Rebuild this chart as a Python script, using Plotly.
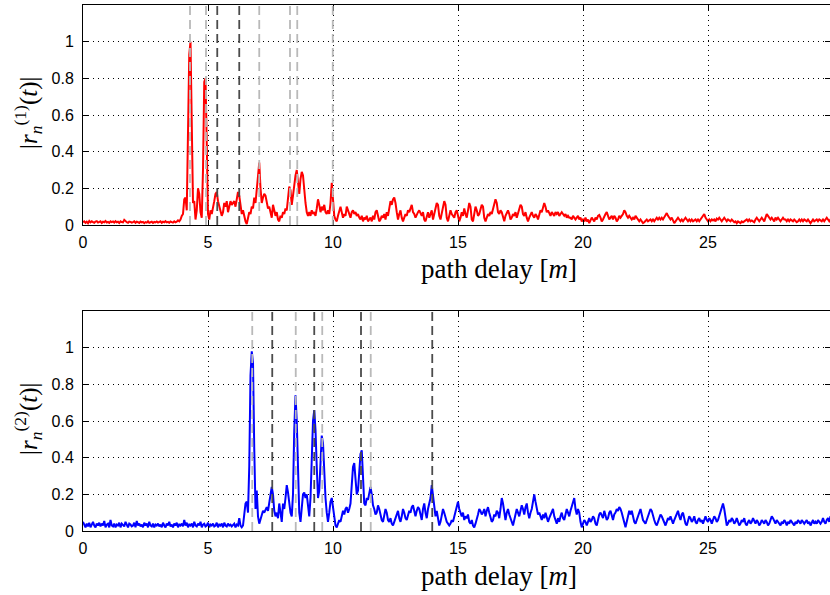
import numpy as np
import plotly.graph_objects as go

# ---------------- data ----------------
step = 0.05  # path-delay sampling [m]

r1_values = [
    # 0-1
    0.015,0.02,0.012,0.018,0.01,0.022,0.014,0.02,0.016,0.012,0.019,0.021,0.013,0.017,0.02,0.011,0.018,0.015,0.022,0.014,
    # 1-2
    0.017,0.012,0.02,0.016,0.019,0.013,0.021,0.015,0.018,0.011,0.02,0.016,0.014,0.028,0.02,0.015,0.012,0.019,0.017,0.013,
    # 2-3
    0.016,0.02,0.012,0.018,0.015,0.011,0.019,0.014,0.017,0.01,0.016,0.013,0.02,0.012,0.015,0.018,0.011,0.017,0.014,0.019,
    # 3-4
    0.013,0.016,0.02,0.012,0.018,0.015,0.021,0.014,0.017,0.012,0.019,0.016,0.013,0.02,0.015,0.018,0.025,0.02,0.03,0.05,
    # 4-5
    0.06,0.14,0.15,0.08,0.55,0.93,1.0,0.62,0.12,0.13,0.03,0.08,0.2,0.17,0.07,0.04,0.3,0.78,0.8,0.45,
    # 5-6
    0.06,0.03,0.08,0.06,0.09,0.13,0.17,0.18,0.13,0.1,0.08,0.05,0.07,0.12,0.1,0.13,0.07,0.1,0.13,0.11,
    # 6-7
    0.12,0.13,0.1,0.14,0.18,0.16,0.09,0.06,0.08,0.04,0.02,0.005,0.04,0.07,0.06,0.1,0.09,0.15,0.12,0.2,
    # 7-8
    0.3,0.34,0.2,0.12,0.15,0.17,0.16,0.12,0.09,0.1,0.06,0.04,0.11,0.08,0.05,0.07,0.03,0.02,0.05,0.04,
    # 8-9
    0.07,0.06,0.09,0.08,0.15,0.21,0.19,0.11,0.16,0.22,0.27,0.3,0.22,0.17,0.25,0.29,0.27,0.18,0.12,0.07,
    # 9-10
    0.05,0.07,0.05,0.08,0.06,0.07,0.05,0.09,0.14,0.11,0.07,0.1,0.08,0.11,0.07,0.06,0.08,0.06,0.12,0.23,
    # 10-11
    0.16,0.05,0.03,0.02,0.05,0.08,0.1,0.07,0.04,0.06,0.05,0.1,0.08,0.06,0.04,0.07,0.08,0.06,0.07,0.05,
    # 11-12
    0.06,0.04,0.03,0.05,0.02,0.04,0.03,0.05,0.02,0.03,0.04,0.02,0.05,0.03,0.07,0.08,0.04,0.02,0.03,0.05,
    # 12-13
    0.04,0.06,0.03,0.07,0.05,0.1,0.13,0.11,0.14,0.15,0.12,0.07,0.03,0.06,0.08,0.04,0.02,0.04,0.06,0.05,
    # 13-14
    0.08,0.07,0.09,0.11,0.07,0.06,0.04,0.06,0.07,0.08,0.06,0.05,0.07,0.03,0.02,0.05,0.07,0.04,0.06,0.08,
    # 14-15
    0.03,0.06,0.09,0.12,0.11,0.05,0.03,0.06,0.1,0.13,0.11,0.04,0.02,0.05,0.08,0.06,0.05,0.04,0.07,0.08,
    # 15-16
    0.05,0.02,0.04,0.07,0.05,0.09,0.06,0.04,0.08,0.12,0.1,0.03,0.02,0.06,0.1,0.08,0.05,0.06,0.09,0.11,
    # 16-17
    0.1,0.04,0.02,0.04,0.06,0.05,0.07,0.06,0.09,0.11,0.14,0.12,0.07,0.06,0.08,0.07,0.04,0.02,0.05,0.07,
    # 17-18
    0.08,0.06,0.03,0.04,0.06,0.05,0.07,0.04,0.06,0.09,0.11,0.1,0.06,0.05,0.07,0.04,0.02,0.04,0.06,0.07,
    # 18-19
    0.05,0.04,0.06,0.05,0.03,0.06,0.08,0.07,0.1,0.12,0.1,0.07,0.08,0.06,0.05,0.07,0.06,0.05,0.07,0.06,
    # 19-20
    0.07,0.05,0.06,0.07,0.06,0.05,0.06,0.04,0.05,0.04,0.04,0.03,0.05,0.04,0.03,0.04,0.05,0.03,0.04,0.02,
    # 20-21
    0.03,0.02,0.04,0.02,0.03,0.01,0.03,0.04,0.03,0.02,0.04,0.03,0.05,0.055,0.04,0.02,0.03,0.05,0.06,0.07,
    # 21-22
    0.05,0.03,0.04,0.05,0.03,0.05,0.04,0.02,0.03,0.05,0.04,0.05,0.06,0.08,0.07,0.05,0.04,0.05,0.04,0.03,
    # 22-23
    0.04,0.03,0.05,0.04,0.03,0.02,0.03,0.02,0.01,0.015,0.02,0.03,0.02,0.025,0.03,0.02,0.03,0.02,0.03,0.04,
    # 23-24
    0.03,0.04,0.03,0.04,0.03,0.04,0.05,0.065,0.05,0.04,0.03,0.04,0.02,0.01,0.02,0.03,0.04,0.03,0.02,0.03,
    # 24-25
    0.02,0.03,0.04,0.03,0.02,0.03,0.02,0.03,0.02,0.025,0.03,0.02,0.03,0.02,0.03,0.04,0.05,0.06,0.04,0.03,
    # 25-26
    0.02,0.03,0.02,0.03,0.025,0.03,0.02,0.035,0.03,0.04,0.03,0.02,0.03,0.04,0.03,0.02,0.03,0.025,0.02,0.03,
    # 26-27
    0.02,0.015,0.02,0.01,0.02,0.015,0.01,0.02,0.015,0.02,0.025,0.03,0.02,0.03,0.02,0.025,0.02,0.015,0.03,0.04,
    # 27-28
    0.03,0.02,0.03,0.04,0.03,0.02,0.04,0.06,0.05,0.04,0.03,0.04,0.03,0.02,0.04,0.03,0.04,0.03,0.02,0.03,
    # 28-29
    0.04,0.03,0.03,0.02,0.03,0.02,0.03,0.025,0.02,0.03,0.02,0.015,0.02,0.03,0.02,0.03,0.02,0.03,0.025,0.02,
    # 29-30
    0.03,0.02,0.01,0.02,0.03,0.02,0.025,0.03,0.02,0.03,0.025,0.02,0.03,0.02,0.03,0.04,0.03,0.02,0.03,0.03,
]

r2_values = [
    # 0-1
    0.05,0.03,0.02,0.04,0.025,0.045,0.02,0.035,0.05,0.03,0.02,0.04,0.03,0.045,0.025,0.04,0.03,0.055,0.02,0.035,
    # 1-2
    0.04,0.02,0.06,0.03,0.025,0.04,0.02,0.035,0.03,0.045,0.02,0.04,0.03,0.025,0.05,0.03,0.02,0.04,0.035,0.025,
    # 2-3
    0.03,0.045,0.02,0.055,0.03,0.04,0.025,0.035,0.02,0.045,0.03,0.04,0.02,0.05,0.03,0.025,0.04,0.02,0.035,0.03,
    # 3-4
    0.04,0.025,0.035,0.02,0.045,0.03,0.02,0.04,0.03,0.05,0.025,0.035,0.02,0.04,0.03,0.045,0.02,0.035,0.03,0.04,
    # 4-5
    0.025,0.06,0.03,0.045,0.02,0.035,0.03,0.04,0.02,0.05,0.03,0.025,0.04,0.03,0.05,0.02,0.035,0.04,0.025,0.03,
    # 5-6
    0.045,0.02,0.035,0.03,0.04,0.025,0.03,0.045,0.02,0.035,0.03,0.04,0.02,0.045,0.03,0.025,0.04,0.03,0.035,0.025,
    # 6-7
    0.03,0.04,0.02,0.035,0.03,0.07,0.03,0.02,0.03,0.08,0.15,0.16,0.1,0.35,0.85,0.98,0.92,0.45,0.12,0.22,
    # 7-8
    0.08,0.04,0.06,0.09,0.11,0.1,0.12,0.13,0.11,0.15,0.18,0.24,0.2,0.11,0.08,0.1,0.07,0.15,0.1,0.05,
    # 8-9
    0.15,0.12,0.18,0.25,0.21,0.15,0.1,0.08,0.2,0.55,0.74,0.6,0.25,0.1,0.05,0.12,0.2,0.21,0.18,0.2,
    # 9-10
    0.12,0.08,0.18,0.4,0.6,0.66,0.55,0.35,0.18,0.22,0.4,0.52,0.48,0.3,0.18,0.1,0.05,0.1,0.16,0.18,
    # 10-11
    0.12,0.06,0.03,0.02,0.04,0.06,0.05,0.08,0.11,0.09,0.12,0.13,0.1,0.12,0.15,0.25,0.35,0.37,0.28,0.2,
    # 11-12
    0.22,0.32,0.42,0.44,0.3,0.15,0.14,0.18,0.17,0.21,0.24,0.2,0.14,0.12,0.09,0.1,0.14,0.12,0.08,0.06,
    # 12-13
    0.05,0.09,0.12,0.1,0.06,0.05,0.07,0.04,0.03,0.05,0.07,0.1,0.11,0.07,0.05,0.08,0.12,0.1,0.07,0.06,
    # 13-14
    0.09,0.11,0.1,0.13,0.14,0.1,0.08,0.11,0.13,0.12,0.09,0.06,0.12,0.15,0.1,0.07,0.12,0.16,0.18,0.25,
    # 14-15
    0.2,0.12,0.08,0.11,0.06,0.03,0.05,0.09,0.12,0.1,0.07,0.05,0.04,0.03,0.04,0.06,0.05,0.08,0.1,0.14,
    # 15-16
    0.16,0.12,0.1,0.08,0.1,0.06,0.08,0.07,0.09,0.05,0.04,0.06,0.03,0.02,0.04,0.06,0.09,0.12,0.11,0.09,
    # 16-17
    0.1,0.12,0.08,0.11,0.13,0.1,0.07,0.05,0.06,0.09,0.08,0.11,0.1,0.07,0.12,0.18,0.15,0.1,0.06,0.1,
    # 17-18
    0.12,0.09,0.07,0.05,0.03,0.06,0.09,0.12,0.1,0.08,0.11,0.14,0.12,0.09,0.13,0.15,0.1,0.07,0.1,0.12,
    # 18-19
    0.16,0.2,0.16,0.11,0.09,0.1,0.08,0.06,0.09,0.07,0.1,0.08,0.05,0.07,0.09,0.1,0.12,0.08,0.06,0.04,
    # 19-20
    0.07,0.05,0.08,0.1,0.07,0.06,0.09,0.12,0.1,0.08,0.11,0.13,0.16,0.18,0.12,0.09,0.12,0.1,0.05,0.02,
    # 20-21
    0.04,0.06,0.05,0.03,0.05,0.07,0.05,0.06,0.08,0.07,0.04,0.03,0.06,0.09,0.1,0.08,0.07,0.11,0.09,0.06,
    # 21-22
    0.07,0.1,0.11,0.08,0.06,0.09,0.1,0.12,0.11,0.13,0.12,0.1,0.07,0.04,0.02,0.05,0.08,0.11,0.09,0.11,
    # 22-23
    0.08,0.05,0.04,0.06,0.08,0.11,0.12,0.09,0.06,0.05,0.04,0.06,0.08,0.1,0.12,0.11,0.08,0.06,0.04,0.03,
    # 23-24
    0.05,0.07,0.09,0.08,0.06,0.04,0.03,0.05,0.07,0.06,0.08,0.06,0.04,0.06,0.08,0.1,0.11,0.08,0.06,0.09,
    # 24-25
    0.1,0.07,0.04,0.03,0.05,0.08,0.07,0.05,0.06,0.08,0.05,0.04,0.06,0.07,0.05,0.06,0.04,0.06,0.08,0.06,
    # 25-26
    0.05,0.07,0.06,0.04,0.06,0.08,0.07,0.05,0.06,0.08,0.1,0.13,0.15,0.12,0.06,0.03,0.04,0.06,0.05,0.07,
    # 26-27
    0.06,0.04,0.05,0.07,0.05,0.03,0.04,0.06,0.05,0.07,0.04,0.03,0.05,0.06,0.04,0.05,0.07,0.05,0.04,0.06,
    # 27-28
    0.05,0.03,0.04,0.06,0.05,0.04,0.06,0.05,0.03,0.04,0.06,0.08,0.07,0.05,0.04,0.06,0.05,0.04,0.03,0.05,
    # 28-29
    0.04,0.06,0.05,0.03,0.05,0.04,0.06,0.05,0.04,0.03,0.05,0.04,0.06,0.05,0.04,0.06,0.05,0.04,0.05,0.06,
    # 29-30
    0.04,0.05,0.03,0.05,0.06,0.04,0.05,0.04,0.06,0.05,0.04,0.05,0.07,0.05,0.04,0.06,0.07,0.05,0.08,0.06,
]

# dashed reference delays [m]
paths1_light = [4.28, 4.92, 7.05, 8.28, 8.57, 9.99]
paths1_dark = [5.37, 6.25]
paths2_light = [6.77, 8.51, 9.57, 11.51]
paths2_dark = [7.57, 9.25, 11.12, 13.97]

x_ticks = [0, 5, 10, 15, 20, 25]
y_ticks = [0, 0.2, 0.4, 0.6, 0.8, 1]

# ---------------- figure ----------------
delay1 = np.arange(len(r1_values)) * step
delay2 = np.arange(len(r2_values)) * step

W, H = 830, 595
fig = go.Figure()

fig.add_trace(go.Scatter(x=delay1, y=r1_values, mode="lines",
                         line=dict(color="#ff0000", width=2),
                         xaxis="x", yaxis="y", showlegend=False))
fig.add_trace(go.Scatter(x=delay2, y=r2_values, mode="lines",
                         line=dict(color="#0000ff", width=2),
                         xaxis="x2", yaxis="y2", showlegend=False))

LIGHT = "rgb(185,185,185)"
DARK = "rgb(75,75,75)"
DASH = "9px,5px"

def add_paths(xs, color, xref, yref):
    for v in xs:
        fig.add_shape(type="line", x0=v, x1=v, y0=0, y1=1,
                      xref=xref, yref=yref + " domain",
                      line=dict(color=color, width=1.8, dash=DASH),
                      layer="above")

add_paths(paths1_light, LIGHT, "x", "y")
add_paths(paths1_dark, DARK, "x", "y")
add_paths(paths2_light, LIGHT, "x2", "y2")
add_paths(paths2_dark, DARK, "x2", "y2")

def py(p):  # pixel y -> paper
    return (H - p) / H

def px(p):  # pixel x -> paper (plot area starts at 83, 747 px wide)
    return (p - 83) / 747

tick_font = dict(family="Liberation Sans, Arial, sans-serif", size=16, color="black")
xcommon = dict(range=[0, 29.88], tickvals=x_ticks, ticks="inside", ticklen=5,
               tickcolor="black", showline=True, linecolor="black", linewidth=1,
               mirror="allticks", showgrid=True, gridcolor="black", griddash="1px,4px",
               gridwidth=1, zeroline=False, tickfont=tick_font, ticklabelstandoff=3,
               automargin=False)
ycommon = dict(range=[0, 1.2], tickvals=y_ticks, ticks="inside", ticklen=5,
               tickcolor="black", showline=True, linecolor="black", linewidth=1,
               mirror="allticks", showgrid=True, gridcolor="black", griddash="1px,4px",
               gridwidth=1, zeroline=False, tickfont=tick_font, ticklabelstandoff=5,
               automargin=False)

fig.update_layout(
    width=W, height=H,
    margin=dict(l=83, r=0, t=0, b=0, autoexpand=False),
    paper_bgcolor="white", plot_bgcolor="white",
    xaxis=dict(domain=[0, 1], anchor="y", **xcommon),
    yaxis=dict(domain=[py(225), py(5)], anchor="x", **ycommon),
    xaxis2=dict(domain=[0, 1], anchor="y2", **xcommon),
    yaxis2=dict(domain=[py(531), py(311)], anchor="x2", **ycommon),
)

serif = dict(family="Liberation Serif, DejaVu Serif, serif", size=27, color="black")
ylab_font = dict(family="Liberation Serif, DejaVu Serif, serif", size=25, color="black")
for ypix in (269, 576):
    fig.add_annotation(text="path delay [<i>m</i>]", x=px(499), y=py(ypix),
                       xref="paper", yref="paper", showarrow=False, font=serif,
                       xanchor="center", yanchor="middle")
fig.add_annotation(text="|<i>r</i><sub><i>n</i></sub><sup>(1)</sup>(<i>t</i>)|",
                   x=px(28), y=py(113), xref="paper", yref="paper",
                   showarrow=False, font=ylab_font, textangle=-90,
                   xanchor="center", yanchor="middle")
fig.add_annotation(text="|<i>r</i><sub><i>n</i></sub><sup>(2)</sup>(<i>t</i>)|",
                   x=px(28), y=py(419), xref="paper", yref="paper",
                   showarrow=False, font=ylab_font, textangle=-90,
                   xanchor="center", yanchor="middle")

fig.write_html("out.html", config={"displayModeBar": False},
               post_script="document.body.style.margin='0';document.body.style.overflow='hidden';")
